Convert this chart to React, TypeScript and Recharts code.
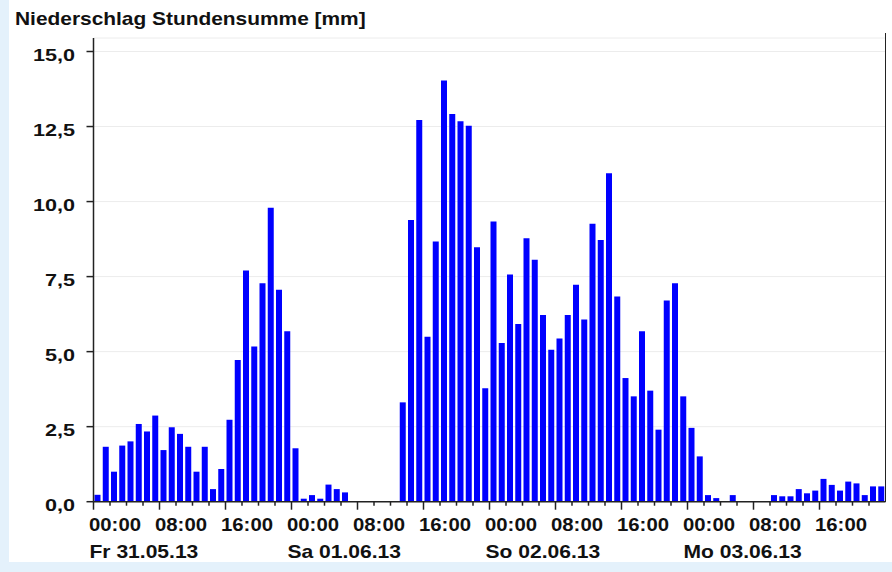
import { Bar, BarChart, CartesianGrid, XAxis, YAxis } from "recharts";

// hourly precipitation in mm, one value per hour, starting 00:00 of each day
const friday = [
  0.23, 1.83, 1.0, 1.87, 2.01, 2.59, 2.34, 2.87, 1.72, 2.48, 2.26, 1.83,
  1.0, 1.83, 0.42, 1.09, 2.73, 4.72, 7.7, 5.17, 7.28, 9.79, 7.06, 5.68,
];
const saturday = [
  1.78, 0.1, 0.22, 0.1, 0.57, 0.42, 0.31, 0, 0, 0, 0, 0,
  0, 3.31, 9.39, 12.72, 5.5, 8.67, 14.03, 12.92, 12.68, 12.53, 8.48, 3.78,
];
const sunday = [
  9.34, 5.29, 7.57, 5.92, 8.78, 8.06, 6.22, 5.06, 5.44, 6.22, 7.23, 6.07,
  9.26, 8.72, 10.94, 6.84, 4.12, 3.51, 5.68, 3.7, 2.4, 6.7, 7.28, 3.51,
];
const monday = [
  2.46, 1.51, 0.22, 0.12, 0, 0.22, 0, 0, 0, 0, 0.22, 0.18,
  0.18, 0.42, 0.28, 0.37, 0.76, 0.56, 0.37, 0.67, 0.61, 0.22, 0.51, 0.51,
];

const dayLabels = ["Fr 31.05.13", "Sa 01.06.13", "So 02.06.13", "Mo 03.06.13"];
const timeLabels = ["00:00", "08:00", "16:00"];
const yTicks = [0, 2.5, 5, 7.5, 10, 12.5, 15];

const hourly = [...friday, ...saturday, ...sunday, ...monday];
const data = hourly.map((mm, i) => ({ hour: i + 0.5, mm }));
const xTicks = Array.from({ length: 48 }, (_, i) => i * 2);

const FONT = '"Liberation Sans", Arial, Helvetica, sans-serif';
const AXIS = "#222";

function HourTick(props: any) {
  const { x, y, payload } = props;
  const h = payload.value as number;
  const major = h % 8 === 0;
  return (
    <g>
      <line x1={x} x2={x} y1={y} y2={y + (major ? 8 : 4)} stroke={AXIS} strokeWidth={1.5} />
      {major && (
        <g transform={`translate(${x + 21.5},${y + 29.3}) scale(1.13,1)`}>
          <text textAnchor="middle" fontFamily={FONT} fontSize={18} fontWeight="bold" fill="#111">
            {timeLabels[(h % 24) / 8]}
          </text>
        </g>
      )}
      {h % 24 === 0 && (
        <g transform={`translate(${x - 4},${y + 56.3}) scale(1.17,1)`}>
          <text textAnchor="start" fontFamily={FONT} fontSize={18} fontWeight="bold" fill="#111">
            {dayLabels[h / 24]}
          </text>
        </g>
      )}
    </g>
  );
}

function MmTick(props: any) {
  const { x, y, payload } = props;
  const label = (payload.value as number).toFixed(1).replace(".", ",");
  return (
    <g>
      <line x1={x - 7} x2={x} y1={y} y2={y} stroke={AXIS} strokeWidth={1.5} />
      <g transform={`translate(${x - 18.5},${y + 9.3}) scale(1.27,1)`}>
        <text textAnchor="end" fontFamily={FONT} fontSize={17} fontWeight="bold" fill="#111">
          {label}
        </text>
      </g>
    </g>
  );
}

export default function App() {
  return (
    <div
      style={{
        position: "absolute",
        left: 0,
        top: 0,
        width: 892,
        height: 572,
        overflow: "hidden",
        background: "#e4f1fb",
      }}
    >
      <div style={{ position: "absolute", left: 9, top: 0, width: 883, height: 562, background: "#fff" }} />
      <svg width={892} height={40} style={{ position: "absolute", left: 0, top: 0 }}>
        <g transform="translate(15,24.5) scale(1.195,1)">
          <text fontFamily={FONT} fontSize={17.5} fontWeight="bold" fill="#111">
            Niederschlag Stundensumme [mm]
          </text>
        </g>
      </svg>
      <BarChart
        width={892}
        height={572}
        data={data}
        margin={{ top: 38, right: 6.5, bottom: 0, left: 0 }}
        style={{ position: "absolute", left: 0, top: 0 }}
      >
        <CartesianGrid vertical={false} stroke="#ececec" />
        <XAxis
          dataKey="hour"
          type="number"
          domain={[0, 96]}
          ticks={xTicks}
          interval={0}
          height={70.3}
          tickLine={false}
          tickSize={0}
          tickMargin={0}
          axisLine={{ stroke: AXIS, strokeWidth: 1.5 }}
          tick={HourTick}
        />
        <YAxis
          type="number"
          domain={[0, 15.45]}
          ticks={yTicks}
          interval={0}
          width={93.5}
          tickLine={false}
          tickSize={0}
          tickMargin={0}
          axisLine={{ stroke: AXIS, strokeWidth: 1.5 }}
          tick={MmTick}
        />
        <Bar dataKey="mm" fill="#0000ff" barSize={6} isAnimationActive={false} />
      </BarChart>
      <div
        style={{ position: "absolute", left: 884.75, top: 33, width: 1.5, height: 469, background: AXIS }}
      />
    </div>
  );
}
